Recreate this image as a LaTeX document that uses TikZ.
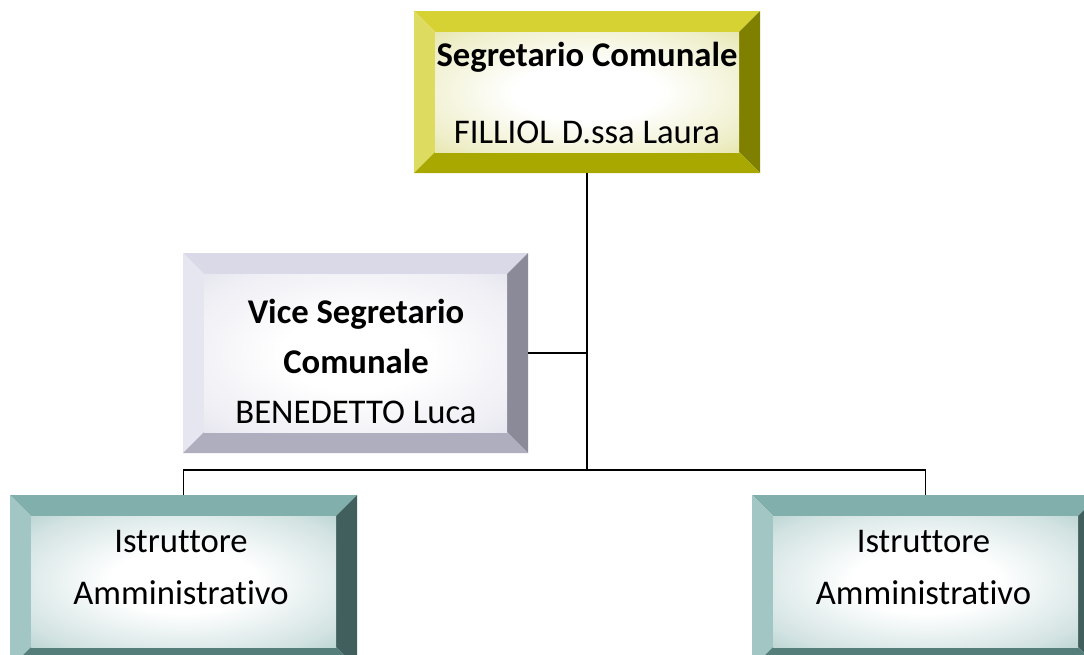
\documentclass[tikz,border=0pt]{standalone}
\usepackage{fontspec}
\setmainfont{Carlito}[Ligatures=NoCommon]
\newdimen\bev
\bev=15.75pt
\definecolor{ytop}{HTML}{D6D234}
\definecolor{yleft}{HTML}{DEDC60}
\definecolor{yright}{HTML}{808000}
\definecolor{ybot}{HTML}{A9A800}
\definecolor{ymid}{HTML}{CFCF66}
\definecolor{ltop}{HTML}{D9D9E7}
\definecolor{lleft}{HTML}{E6E6F0}
\definecolor{lright}{HTML}{8A8A98}
\definecolor{lbot}{HTML}{AEAEBE}
\definecolor{lmid}{HTML}{CFCFE0}
\definecolor{ttop}{HTML}{80AFAC}
\definecolor{tleft}{HTML}{A2C6C4}
\definecolor{tright}{HTML}{405F5D}
\definecolor{tbot}{HTML}{557E7B}
\definecolor{tmid}{HTML}{7FAFAC}
\colorlet{bevmid}{tmid}
\pgfdeclareradialshading[bevmid]{bevshade}{\pgfpoint{0bp}{0bp}}{%
  color(0bp)=(white); color(12bp)=(white); color(30bp)=(bevmid!35!white);
  color(42bp)=(bevmid!70!white); color(50bp)=(bevmid!90!white)}
\tikzset{
  bevelbox/.style n args={5}{rectangle, inner sep=0pt, path picture={
    \coordinate (pnw) at (path picture bounding box.north west);
    \coordinate (pne) at (path picture bounding box.north east);
    \coordinate (psw) at (path picture bounding box.south west);
    \coordinate (pse) at (path picture bounding box.south east);
    \coordinate (inw) at ([xshift=\bev,yshift=-\bev]pnw);
    \coordinate (ine) at ([xshift=-\bev,yshift=-\bev]pne);
    \coordinate (isw) at ([xshift=\bev,yshift=\bev]psw);
    \coordinate (ise) at ([xshift=-\bev,yshift=\bev]pse);
    \fill[#1] (pnw) -- (pne) -- (ine) -- (inw) -- cycle;
    \fill[#2] (pnw) -- (inw) -- (isw) -- (psw) -- cycle;
    \fill[#3] (pne) -- (ine) -- (ise) -- (pse) -- cycle;
    \fill[#4] (psw) -- (isw) -- (ise) -- (pse) -- cycle;
    \colorlet{bevmid}{#5}
    \shade[shading=bevshade] (inw) rectangle (ise);
  }},
  yellowbox/.style={bevelbox={ytop}{yleft}{yright}{ybot}{ymid}},
  lavbox/.style={bevelbox={ltop}{lleft}{lright}{lbot}{lmid}},
  tealbox/.style={bevelbox={ttop}{tleft}{tright}{tbot}{tmid}},
  boxtext/.style={align=center, inner sep=0pt, text=black},
  link/.style={draw=black, line width=1.2pt},
}
\begin{document}
\begin{tikzpicture}[x=0.75pt, y=-0.75pt]
\path[use as bounding box] (0,0) rectangle (1084,654);
\clip (0,0) rectangle (1084,654);
\fill[white] (0,0) rectangle (1084,654);
% boxes
\node[yellowbox, minimum width=259.5pt, minimum height=121.5pt] (top) at (587,92) {};
\node[lavbox, minimum width=258.75pt, minimum height=150pt] (vice) at (355.5,353) {};
\node[tealbox, minimum width=260.25pt, minimum height=129.75pt] (left) at (183.5,581.5) {};
\node[tealbox, minimum width=260.25pt, minimum height=129.75pt] (right) at (925.5,581.5) {};
% texts
\node[boxtext, font=\fontsize{26}{57.75}\selectfont] (toptext) at (587,92.5)
  {\textbf{Segretario Comunale}\\FILLIOL D.ssa Laura};
\node[boxtext, font=\fontsize{26}{37.5}\selectfont] (vicetext) at (356,361)
  {\textbf{Vice Segretario}\\\textbf{Comunale}\\BENEDETTO Luca};
\node[boxtext, font=\fontsize{26}{39}\selectfont] (lefttext) at (181,567)
  {Istruttore\\Amministrativo};
\node[boxtext, font=\fontsize{26}{39}\selectfont] (righttext) at (923.5,567)
  {Istruttore\\Amministrativo};
% connectors
\coordinate (bus) at (587,470);
\draw[link] (top.south) -- (bus);
\draw[link] (vice.east) -- (vice.east -| bus);
\draw[link] (left.north) |- (bus) -| (right.north);
\end{tikzpicture}
\end{document}
